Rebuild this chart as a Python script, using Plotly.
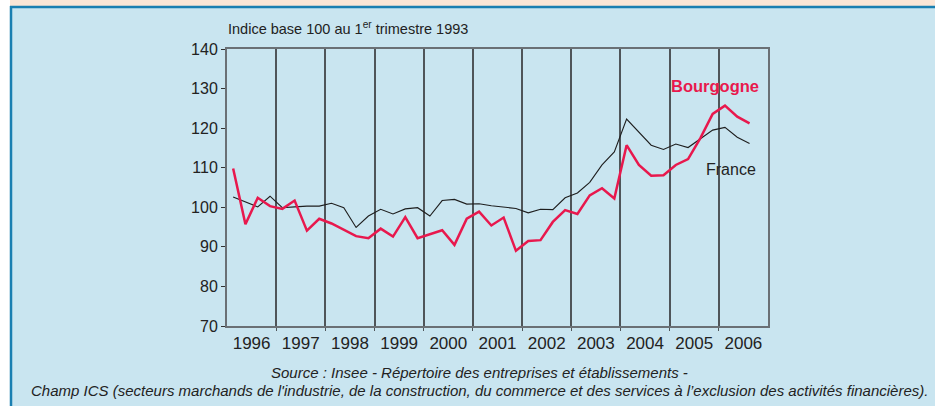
import plotly.graph_objects as go

years = list(range(1996, 2007))
year_labels = [str(y) for y in years]

# quarterly values, 1996 Q1 -> 2006 Q3
bourgogne = [109.8, 95.7, 102.4, 100.3, 99.6, 101.7, 94.1, 97.1,
             95.9, 94.4, 92.7, 92.2, 94.6, 92.6, 97.5, 92.2,
             93.2, 94.2, 90.5, 97.1, 98.9, 95.4, 97.4, 89.0,
             91.5, 91.7, 96.3, 99.3, 98.3, 103.0, 104.8, 102.2,
             115.7, 110.7, 108.0, 108.1, 110.7, 112.2, 117.5, 123.6,
             125.7, 122.9, 121.2]
france = [102.6, 101.4, 100.1, 102.8, 99.9, 100.1, 100.3, 100.3,
          101.0, 99.9, 94.9, 97.8, 99.5, 98.3, 99.6, 99.9,
          97.8, 101.7, 102.0, 100.8, 100.9, 100.4, 100.1, 99.7,
          98.6, 99.5, 99.4, 102.4, 103.6, 106.3, 110.7, 114.0,
          122.3, 119.1, 115.7, 114.6, 116.0, 115.1, 117.4, 119.5,
          120.2, 117.7, 116.1]

x = [1996 + (i + 0.5) / 4 for i in range(len(bourgogne))]

RED = "#e8184d"
fig = go.Figure()
fig.add_trace(go.Scatter(x=x, y=france, mode="lines",
                         line=dict(color="#1e1e1e", width=1.1), showlegend=False))
fig.add_trace(go.Scatter(x=x, y=bourgogne, mode="lines",
                         line=dict(color=RED, width=2.5), showlegend=False))

W, H = 935, 406
L, R, T, B = 227, 768, 49, 326

def px(v):
    return (v - L) / (R - L)

def py(v):
    return (B - v) / (B - T)

fig.update_layout(
    width=W, height=H,
    margin=dict(l=L, r=W - R, t=T, b=H - B),
    paper_bgcolor="#c9e5f0",
    plot_bgcolor="#c9e5f0",
    font=dict(family="Liberation Sans, Arial, sans-serif", color="#222222"),
    xaxis=dict(
        range=[1996, 2007],
        tickvals=[y + 0.5 for y in years],
        ticktext=year_labels,
        ticks="",
        ticklabelstandoff=1,
        showgrid=False,
        zeroline=False,
        tickfont=dict(size=17, color="#222222"),
        showline=True, linecolor="#6a7075", linewidth=2, mirror=True,
        minor=dict(tickvals=years[1:], showgrid=True, gridcolor="#4f5559",
                   gridwidth=1.6, ticks="outside", ticklen=3,
                   tickcolor="#4f5559"),
    ),
    yaxis=dict(
        range=[70, 140],
        tickvals=[70, 80, 90, 100, 110, 120, 130, 140],
        ticks="outside", ticklen=4, tickcolor="#333333",
        showgrid=False, zeroline=False,
        tickfont=dict(size=16, color="#222222"),
        showline=True, linecolor="#6a7075", linewidth=2, mirror=True,
    ),
    shapes=[
        dict(type="rect", xref="paper", yref="paper",
             x0=px(0), x1=px(W), y0=py(6), y1=py(0),
             fillcolor="#fbe6d6", line=dict(width=0), layer="below"),
        dict(type="rect", xref="paper", yref="paper",
             x0=px(0), x1=px(10), y0=py(H), y1=py(0),
             fillcolor="#ffffff", line=dict(width=0), layer="below"),
        dict(type="line", xref="paper", yref="paper",
             x0=px(10), x1=px(W), y0=py(7), y1=py(7),
             line=dict(color="#1a7fb1", width=2.5)),
        dict(type="line", xref="paper", yref="paper",
             x0=px(11), x1=px(11), y0=py(6), y1=py(H),
             line=dict(color="#1a7fb1", width=2.5)),
    ],
    annotations=[
        dict(text="Indice base 100 au 1<sup>er</sup> trimestre 1993",
             xref="paper", yref="paper", x=px(226), y=py(28),
             xanchor="left", yanchor="middle", showarrow=False,
             font=dict(size=14.5, color="#222222")),
        dict(text="<b>Bourgogne</b>", xref="paper", yref="paper",
             x=px(761), y=py(86), xanchor="right", yanchor="middle",
             showarrow=False, font=dict(size=16.5, color=RED)),
        dict(text="France", xref="paper", yref="paper",
             x=px(758), y=py(169), xanchor="right", yanchor="middle",
             showarrow=False, font=dict(size=16, color="#222222")),
        dict(text="<i>Source : Insee - Répertoire des entreprises et établissements -</i>",
             xref="paper", yref="paper", x=px(479), y=py(372),
             xanchor="center", yanchor="middle", showarrow=False,
             font=dict(size=15, color="#222222")),
        dict(text="<i>Champ ICS (secteurs marchands de l'industrie, de la construction, du commerce et des services à l’exclusion des activités financières).</i>",
             xref="paper", yref="paper", x=px(479), y=py(390),
             xanchor="center", yanchor="middle", showarrow=False,
             font=dict(size=15, color="#222222")),
    ],
)

fig.write_html("out.html", config={"displayModeBar": False},
               post_script="document.body.style.margin='0';document.body.style.overflow='hidden';")
